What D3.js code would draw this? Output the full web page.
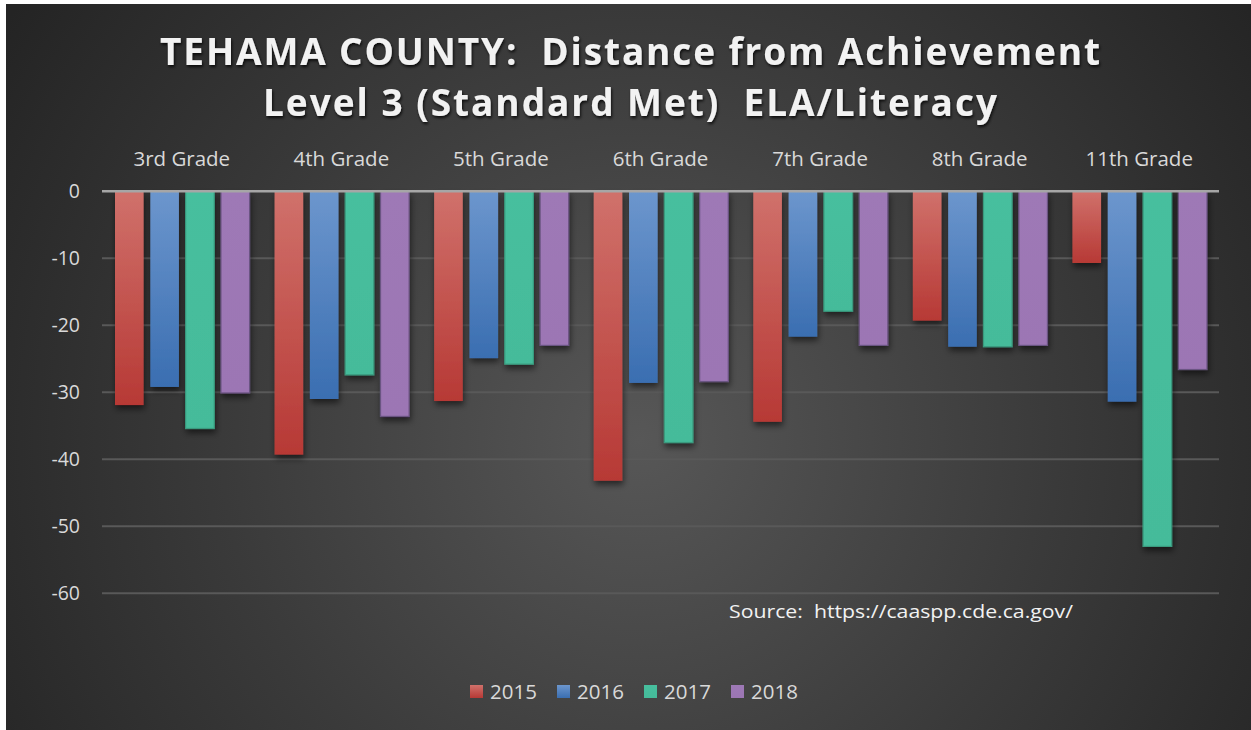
<!DOCTYPE html>
<html><head><meta charset="utf-8">
<script src="https://cdn.jsdelivr.net/npm/d3@7"></script>
<style>html,body{margin:0;padding:0;background:#fff;}svg{display:block;}</style>
</head><body>
<svg id="chart" width="1251" height="730"></svg>
<script>
const categories = ["3rd Grade","4th Grade","5th Grade","6th Grade","7th Grade","8th Grade","11th Grade"];
const years = ["2015","2016","2017","2018"];
const s2015 = [-31.9,-39.3,-31.3,-43.2,-34.4,-19.3,-10.7];
const s2016 = [-29.2,-31.0,-24.9,-28.6,-21.7,-23.2,-31.4];
const s2017 = [-35.4,-27.4,-25.8,-37.5,-17.9,-23.2,-53.0];
const s2018 = [-30.1,-33.6,-23.0,-28.4,-23.0,-23.0,-26.6];
const yTicks = [0,-10,-20,-30,-40,-50,-60];
const titleLines = ["TEHAMA COUNTY:  Distance from Achievement","Level 3 (Standard Met)  ELA/Literacy"];
const sourceText = "Source:  https://caaspp.cde.ca.gov/";

const series = [s2015,s2016,s2017,s2018];
const colors = {
  "2015": ["#d0716b","#b73935"],
  "2016": ["#6c96cd","#3a6eb1"],
  "2017": ["#47bf9e","#45bb9a"],
  "2018": ["#9e79b6","#9c76b4"]
};
const strokes = {"2015":"none","2016":"none","2017":"#3a9a7e","2018":"#6b5482"};

const svg = d3.select("#chart");
const defs = svg.append("defs");

const bg = defs.append("radialGradient").attr("id","bg")
  .attr("gradientUnits","userSpaceOnUse").attr("cx",640).attr("cy",440).attr("r",760);
bg.append("stop").attr("offset",0).attr("stop-color","#575757");
bg.append("stop").attr("offset",0.55).attr("stop-color","#3a3a3a");
bg.append("stop").attr("offset",1).attr("stop-color","#242424");

years.forEach(y => {
  const g = defs.append("linearGradient").attr("id","g"+y).attr("x1",0).attr("y1",0).attr("x2",0).attr("y2",1);
  g.append("stop").attr("offset",0).attr("stop-color",colors[y][0]);
  g.append("stop").attr("offset",1).attr("stop-color",colors[y][1]);
});
const sh = defs.append("filter").attr("id","shadow").attr("x","-30%").attr("y","-10%").attr("width","160%").attr("height","130%");
sh.append("feDropShadow").attr("dx",1).attr("dy",4).attr("stdDeviation",3).attr("flood-color","#000").attr("flood-opacity",0.55);
const tsh = defs.append("filter").attr("id","tshadow").attr("x","-5%").attr("y","-30%").attr("width","110%").attr("height","160%");
tsh.append("feDropShadow").attr("dx",1).attr("dy",2).attr("stdDeviation",1.5).attr("flood-color","#000").attr("flood-opacity",0.8);

svg.append("rect").attr("x",6).attr("y",4).attr("width",1245).attr("height",726).attr("fill","url(#bg)");

// title
titleLines.forEach((t,i) => {
  svg.append("text").attr("x",630).attr("y",[65,116][i])
    .attr("text-anchor","middle").style("white-space","pre")
    .attr("font-family","'Open Sans', sans-serif").attr("font-weight",700).attr("font-size",37)
    .attr("fill","#f2f2f2").attr("filter","url(#tshadow)")
    .attr("textLength",[940,734][i]).attr("lengthAdjust","spacing")
    .text(t);
});

const x0 = d3.scaleBand().domain(categories).range([102,1219]).padding(0);
const x1 = d3.scaleBand().domain(years).range([13, x0.bandwidth()-12]).paddingInner(0.19).paddingOuter(0);
const y = d3.scaleLinear().domain([-60,0]).range([593.3,191.3]);

// gridlines
svg.append("g").selectAll("line").data(yTicks.filter(d=>d!==0)).join("line")
  .attr("x1",102).attr("x2",1219).attr("y1",d=>y(d)).attr("y2",d=>y(d))
  .attr("stroke","#595959").attr("stroke-width",2);

// y labels
svg.append("g").selectAll("text").data(yTicks).join("text")
  .attr("x",80).attr("y",d=>y(d)).attr("dy","0.35em").attr("text-anchor","end")
  .attr("font-family","'Open Sans', sans-serif").attr("font-size",19.5).attr("fill","#d9d9d9")
  .text(d=>String(d));

// bars
const groups = svg.append("g").selectAll("g").data(categories).join("g")
  .attr("transform",d=>`translate(${x0(d)},0)`);
groups.selectAll("rect").data((c,ci)=>years.map((yr,si)=>({yr, v: series[si][ci]}))).join("rect")
  .attr("x",d=>x1(d.yr)).attr("width",x1.bandwidth())
  .attr("y",y(0)).attr("height",d=>y(d.v)-y(0))
  .attr("fill",d=>"url(#g"+d.yr+")")
  .attr("stroke",d=>strokes[d.yr]).attr("stroke-width",1.2)
  .attr("filter","url(#shadow)");

// zero line
svg.append("line").attr("x1",102).attr("x2",1219).attr("y1",y(0)).attr("y2",y(0))
  .attr("stroke","#a6a6a6").attr("stroke-width",2.5);

// category labels
svg.append("g").selectAll("text").data(categories).join("text")
  .attr("x",d=>x0(d)+x0.bandwidth()/2).attr("y",166).attr("text-anchor","middle")
  .attr("font-family","'Open Sans', sans-serif").attr("font-size",20.5).attr("fill","#d9d9d9")
  .text(d=>d);

// source
svg.append("text").attr("x",729).attr("y",618).style("white-space","pre")
  .attr("font-family","'Open Sans', sans-serif").attr("font-size",19).attr("fill","#f2f2f2")
  .attr("textLength",344).attr("lengthAdjust","spacingAndGlyphs")
  .text(sourceText);

// legend
const lx = [470,557,644,731];
const leg = svg.append("g").selectAll("g").data(years).join("g")
  .attr("transform",(d,i)=>`translate(${lx[i]},685)`);
leg.append("rect").attr("width",13).attr("height",13).attr("fill",d=>"url(#g"+d+")");
leg.append("text").attr("x",20).attr("y",6.5).attr("dy","0.36em")
  .attr("font-family","'Open Sans', sans-serif").attr("font-size",20.5).attr("fill","#d9d9d9")
  .text(d=>d);
</script>
</body></html>
